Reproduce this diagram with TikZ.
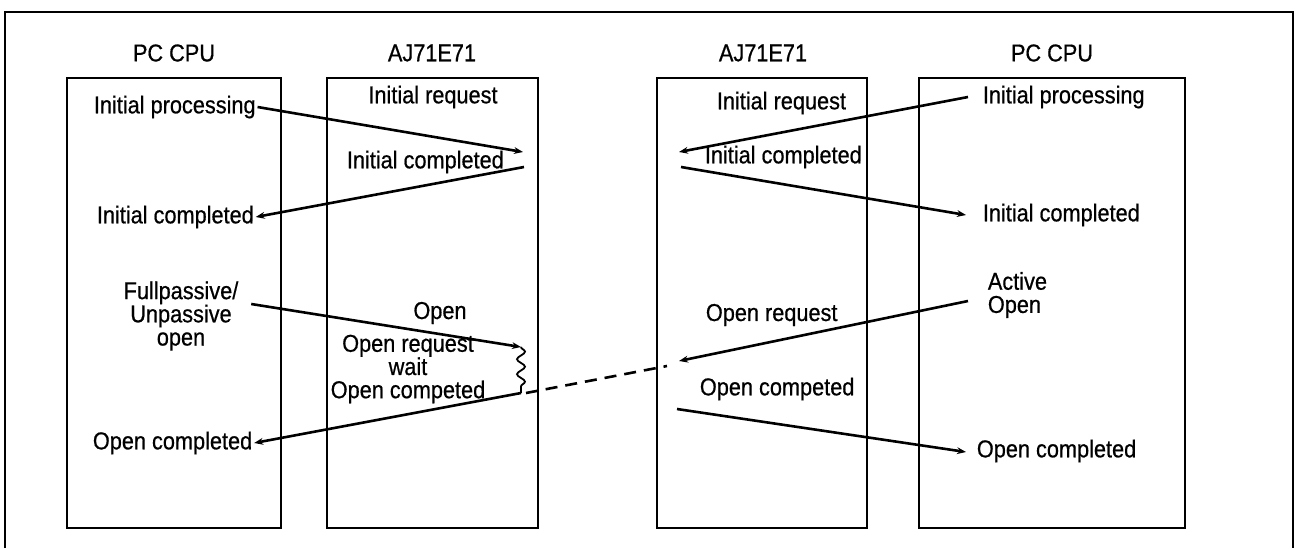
\documentclass[tikz,border=0pt]{standalone}
\usepackage{fontspec}
\setmainfont[FakeStretch=0.89,FakeBold=0.6]{Liberation Sans}
\usetikzlibrary{arrows.meta,calc,decorations.pathmorphing}

\begin{document}
\begin{tikzpicture}[x=0.5pt,y=0.5pt,yscale=-1,xscale=1,
  txt/.style={inner sep=0.75pt,font=\fontsize{12.2}{11.6}\selectfont,align=center},
  unit/.style={line width=0.9pt},
  msg/.style={line width=1.3pt,-{Stealth[length=4.5pt,width=3.4pt]}}]
\useasboundingbox (0,0) rectangle (1303,548);

%Shape: Frame (open at the bottom)
\draw [line width=1.2pt] (5,548) -- (5,12) -- (1293,12) -- (1293,548);
%Shape: Rectangle [PC CPU left]
\draw [unit] (67,78) rectangle (281,528);
%Shape: Rectangle [AJ71E71 left]
\draw [unit] (327,78) rectangle (538,528);
%Shape: Rectangle [AJ71E71 right]
\draw [unit] (657,78) rectangle (867,528);
%Shape: Rectangle [PC CPU right]
\draw [unit] (919,78) rectangle (1185,528);

% Text Node
\node [txt] (cpuL) at (174,53) {PC CPU};
\node [txt] (ajL) at (432,53) {AJ71E71};
\node [txt] (ajR) at (763,53) {AJ71E71};
\node [txt] (cpuR) at (1052,53) {PC CPU};

% Text Node
\node [txt,anchor=west] (ipL) at (92,107) {Initial processing};
\node [txt,anchor=west] (icL) at (95,217) {Initial completed};
\node [txt] (fpL) at (181,316) {Fullpassive/\\Unpassive\\open};
\node [txt,anchor=west] (ocL) at (91,443) {Open completed};
% Text Node
\node [txt] (irA) at (433,97) {Initial request};
\node [txt,anchor=west] (icA) at (345,162) {Initial completed};
\node [txt] (opA) at (440,313) {Open};
\node [txt] (orA) at (408,369) {Open request\\wait\\Open competed};
% Text Node
\node [txt,anchor=west] (irB) at (715,103) {Initial request};
\node [txt,anchor=west] (icB) at (703,157) {Initial completed};
\node [txt,anchor=west] (orB) at (704,315) {Open request};
\node [txt,anchor=west] (ocB) at (698,389) {Open competed};
% Text Node
\node [txt,anchor=west] (ipR) at (981,97) {Initial processing};
\node [txt,anchor=west] (icR) at (981,215) {Initial completed};
\node [txt,anchor=west,align=left] (aoR) at (986,295) {Active\\Open};
\node [txt,anchor=west] (ocR) at (975,451) {Open completed};

% Points on the module side
\coordinate (a1) at (523,152);
\coordinate (a2) at (524,167);
\coordinate (w1) at (521,347);
\coordinate (w2) at (521,393);
\coordinate (b1) at (679,152);
\coordinate (b2) at (681,167);
\coordinate (b3) at (679,361);
\coordinate (b4) at (677,409);
\coordinate (d1) at (667,366);

%Straight Lines
\draw [msg] (ipL.east) -- (a1);
\draw [msg] (a2) -- (icL.east);
\draw [msg] ($(ipR.west)+(-13,0)$) -- (b1);
\draw [msg] (b2) -- ($(icR.west)+(-15,0)$);
\draw [msg] ($(fpL.east)+(11,-12)$) -- (w1);
\draw [line width=0.9pt,decorate,decoration={snake,segment length=7.5pt,amplitude=2pt}] (w1) -- (w2);
\draw [msg] (w2) -- (ocL.east);
\draw [line width=1.3pt,dash pattern=on 6pt off 4pt] ($(w2)+(5,0)$) -- (d1);
\draw [msg] ($(aoR.west)+(-18,6)$) -- (b3);
\draw [msg] (b4) -- ($(ocR.west)+(-9,1)$);

\end{tikzpicture}
\end{document}
